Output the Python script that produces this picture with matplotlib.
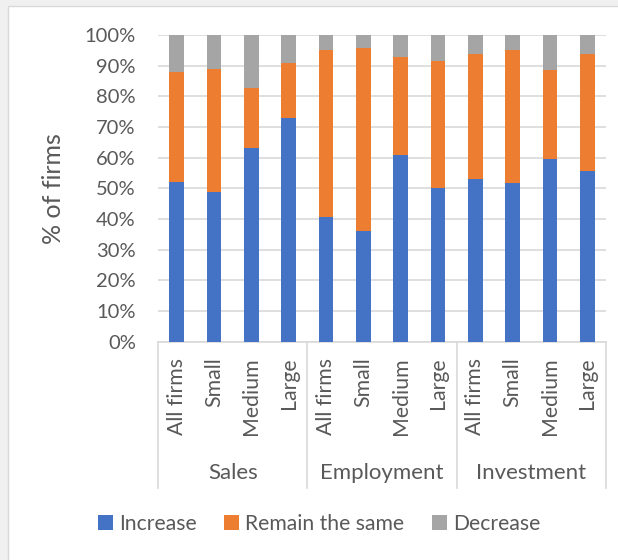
import matplotlib.pyplot as plt
from matplotlib.patches import Rectangle
from matplotlib.transforms import blended_transform_factory

plt.rcParams['font.family'] = ['Lato', 'DejaVu Sans']

# 데이터 (그림에서 읽은 값, %)
groups = ["Sales", "Employment", "Investment"]
sizes = ["All firms", "Small", "Medium", "Large"]
increase = [52.1, 48.7, 63.1, 73.0,
            40.6, 36.0, 61.0, 50.0,
            52.9, 51.6, 59.5, 55.6]
remain = [35.9, 40.2, 19.7, 17.8,
          54.5, 59.7, 31.7, 41.6,
          41.0, 43.6, 28.9, 38.0]
decrease = [12.0, 11.1, 17.2, 9.2,
            4.9, 4.3, 7.3, 8.4,
            6.1, 4.8, 11.6, 6.4]
yticks = [0, 10, 20, 30, 40, 50, 60, 70, 80, 90, 100]

BLUE = "#4472C4"
ORANGE = "#ED7D31"
GRAY = "#A5A5A5"
TEXT = "#595959"
LINE = "#D9D9D9"

fig = plt.figure(figsize=(6.18, 5.6), dpi=100, facecolor="#F0F0F0")
# 차트 영역 (흰 배경)
fig.patches.append(Rectangle((8 / 618, -0.1), 1.1, 1.1 - 6 / 560,
                             transform=fig.transFigure, facecolor="white",
                             edgecolor=LINE, linewidth=1, zorder=-10))

ax = fig.add_axes([0.2557, 0.3898, 0.7249, 0.548])
ax.set_facecolor("none")

x = list(range(len(increase)))
bottom2 = [a + b for a, b in zip(increase, remain)]
b1 = ax.bar(x, increase, width=0.4, color=BLUE, label="Increase", zorder=3)
b2 = ax.bar(x, remain, width=0.4, bottom=increase, color=ORANGE,
            label="Remain the same", zorder=3)
b3 = ax.bar(x, decrease, width=0.4, bottom=bottom2, color=GRAY,
            label="Decrease", zorder=3)

ax.set_xlim(-0.5, len(x) - 0.5)
ax.set_ylim(0, 100)
ax.set_yticks(yticks)
ax.set_yticklabels([f"{t}%" for t in yticks], fontsize=14.5, color=TEXT)
ax.tick_params(axis="y", length=0, pad=16)
ax.set_xticks([])
ax.grid(axis="y", color=LINE, linewidth=1.2, zorder=0)
for s in ["top", "right", "left"]:
    ax.spines[s].set_visible(False)
ax.spines["bottom"].set_color(LINE)
ax.spines["bottom"].set_linewidth(1.2)

ax.set_ylabel("% of firms", fontsize=18, color=TEXT, labelpad=14)

# 카테고리 축 (2단)
tr = blended_transform_factory(ax.transData, ax.transAxes)
for i in x:
    ax.text(i, -0.052, sizes[i % len(sizes)], rotation=90, ha="center",
            va="top", fontsize=15.3, color=TEXT, transform=tr)
for g, name in enumerate(groups):
    ax.text(g * 4 + 1.5, -0.428, name, ha="center", va="center",
            fontsize=16, color=TEXT, transform=tr)
for g in range(len(groups) + 1):
    ax.plot([g * 4 - 0.5, g * 4 - 0.5], [0, -0.477], color=LINE,
            linewidth=1.2, transform=tr, clip_on=False)

fig.legend(handles=[b1, b2, b3], loc="center", bbox_to_anchor=(319 / 618, 0.0643),
           ncol=3, frameon=False, fontsize=15.2, labelcolor=TEXT,
           handlelength=0.7, handleheight=0.7, handletextpad=0.3,
           columnspacing=1.3)

fig.savefig("out.png", dpi=100, facecolor=fig.get_facecolor())
